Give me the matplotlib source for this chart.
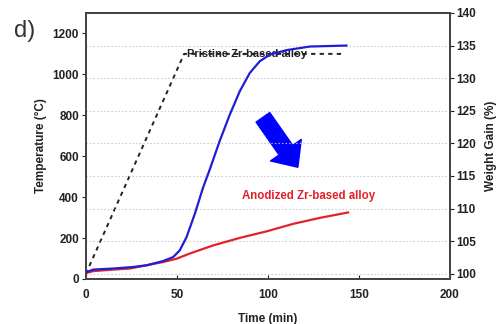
import numpy as np
import matplotlib
matplotlib.use('Agg')
import matplotlib.pyplot as plt

plt.rcParams['font.family'] = ['Liberation Sans', 'DejaVu Sans']

# --- data

# weight gain, pristine alloy (blue)
t_pristine = [0, 4, 15, 26, 33.4, 42.5, 48, 51.6, 55.3, 59.9, 64.4, 68.1, 73.6,
              79.1, 84.6, 90.1, 95.6, 101.1, 110.3, 123.1, 143.2]
w_pristine = [100.2, 100.64, 100.8, 101.04, 101.3, 101.95, 102.56, 103.58, 105.6,
              109.2, 113.2, 116.0, 120.4, 124.4, 128.0, 130.8, 132.6, 133.6,
              134.3, 134.85, 135.0]

# weight gain, anodized alloy (red)
t_anodized = [0, 4, 15, 24.2, 33.4, 42.5, 49.8, 57.1, 70, 84.6, 99.3, 113.9, 128.6, 144.1]
w_anodized = [100.1, 100.4, 100.64, 100.8, 101.3, 101.8, 102.3, 103.1, 104.35,
              105.5, 106.5, 107.65, 108.57, 109.4]

# furnace temperature programme (black dashed)
t_temp = [0, 54, 142]
temp = [25, 1100, 1100]

x_ticks = [0, 50, 100, 150, 200]
temp_ticks = [0, 200, 400, 600, 800, 1000, 1200]
w_ticks = [100, 105, 110, 115, 120, 125, 130, 135, 140]

blue = '#1e1ed8'
red = '#e4212b'
txt = '#222222'

fig = plt.figure(figsize=(5.02, 3.24), dpi=100)
ax = fig.add_axes([0.171, 0.139, 0.725, 0.821])
ax2 = ax.twinx()

# --- temperature axis
ax.plot(t_temp, temp, color='#222222', lw=1.4, ls=(0, (2.2, 2.2)), zorder=3)
ax.set_xlim(0, 200)
ax.set_ylim(0, 1300)
ax.set_xticks(x_ticks)
ax.set_yticks(temp_ticks)
ax.set_xlabel('Time (min)', fontsize=8.5, fontweight='bold', color=txt, labelpad=9)
ax.set_ylabel('Temperature (\u00b0C)', fontsize=8.5, fontweight='bold', color=txt, labelpad=4)
ax.tick_params(axis='x', direction='in', length=3, labelsize=8.5, pad=7, colors=txt)
ax.tick_params(axis='y', direction='out', length=3, labelsize=8.5, pad=2, colors=txt)
for lab in ax.get_xticklabels() + ax.get_yticklabels():
    lab.set_fontweight('bold')

ax.text(55.5, 1097, 'Pristine Zr-based alloy', fontsize=8, fontweight='bold',
        color='#222222', va='center', ha='left', zorder=5)
ax.text(86, 405, 'Anodized Zr-based alloy', fontsize=8.3, fontweight='bold',
        color=red, va='center', ha='left', zorder=5)

# big blue arrow
ax.annotate('', xy=(116.5, 546), xytext=(97.3, 790), xycoords='data',
            arrowprops=dict(arrowstyle='simple,head_length=15,head_width=27,tail_width=12',
                            mutation_scale=1, color='#0000ff', shrinkA=0, shrinkB=0),
            zorder=6)

# --- weight gain axis
ax2.set_ylim(99.2, 140)
ax2.set_yticks(w_ticks)
for w in w_ticks[:-1]:
    ax2.axhline(w, color='#c4c4c4', lw=0.8, ls=(0, (1.2, 2)), zorder=0)
ax2.plot(t_anodized, w_anodized, color=red, lw=1.6, zorder=4)
ax2.plot(t_pristine, w_pristine, color=blue, lw=1.6, zorder=4)
ax2.set_ylabel('Weight Gain (%)', fontsize=8.5, fontweight='bold', color=txt, labelpad=6)
ax2.tick_params(axis='y', direction='out', length=3, labelsize=8.5, pad=2, colors=txt)
for lab in ax2.get_yticklabels():
    lab.set_fontweight('bold')

for a in (ax, ax2):
    for s in a.spines.values():
        s.set_color('#444444')
        s.set_linewidth(1.3)

fig.text(0.028, 0.905, 'd)', fontsize=17, color='#333333', va='center', ha='left')

fig.savefig('out.png', dpi=100)
